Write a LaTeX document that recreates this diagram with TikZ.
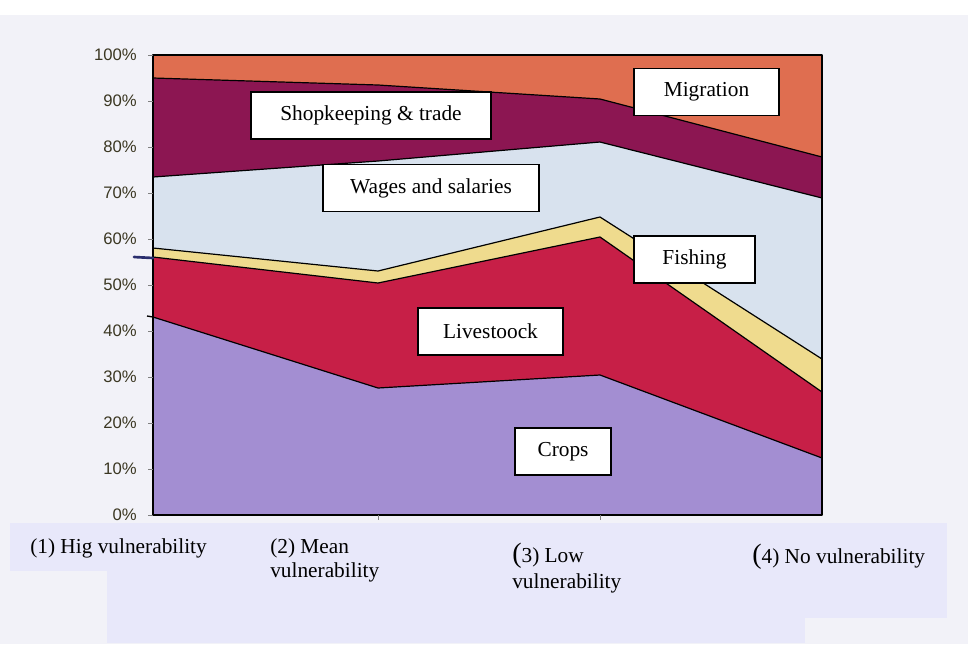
\documentclass[tikz,border=0pt]{standalone}
\usepackage{fontspec}
\setmainfont{Liberation Serif}
\setsansfont{Liberation Sans}
\definecolor{pagebg}{HTML}{F2F2F8}
\definecolor{strip}{HTML}{E8E8FA}
\definecolor{migr}{HTML}{DF6E50}
\definecolor{shop}{HTML}{8C1652}
\definecolor{wage}{HTML}{D8E2EE}
\definecolor{fish}{HTML}{EFDB8E}
\definecolor{live}{HTML}{C71F47}
\definecolor{crop}{HTML}{A38ED2}
\definecolor{axistext}{HTML}{3B3722}
\definecolor{penmark}{HTML}{2A2E6E}
\begin{document}
\begin{tikzpicture}[x=0.75pt,y=-0.75pt,
    band/.style={draw=black,line width=0.9pt,line join=round},
    tag/.style={draw=black,fill=white,line width=1.1pt,inner sep=0pt,
      minimum height=35pt,font=\fontsize{16}{18}\selectfont},
    pct/.style={anchor=east,inner sep=0pt,text=axistext,
      font=\sffamily\fontsize{12.5}{13}\selectfont},
    cat/.style={anchor=north west,align=left,inner sep=0pt,
      font=\fontsize{16}{18}\selectfont}]
    \useasboundingbox (0,0) rectangle (968,644);
    \fill[pagebg] (0,0) rectangle (968,644);
    \fill[white] (0,0) rectangle (968,15);
    % strip under the chart
    \fill[strip] (10,523) rectangle (947,571);
    \fill[strip] (107,571) rectangle (947,618);
    \fill[strip] (107,618) rectangle (805,643);

    % stacked areas
    \fill[crop] (153,515) -- (153,317) -- (378,388) -- (600,375) -- (822,458) -- (822,515) -- cycle;
    \fill[live] (153,317) -- (378,388) -- (600,375) -- (822,458) -- (822,392) -- (600,237) -- (378,283) -- (153,257) -- cycle;
    \fill[fish] (153,257) -- (378,283) -- (600,237) -- (822,392) -- (822,359) -- (600,217) -- (378,271) -- (153,248) -- cycle;
    \fill[wage] (153,248) -- (378,271) -- (600,217) -- (822,359) -- (822,198) -- (600,142) -- (378,161) -- (153,177) -- cycle;
    \fill[shop] (153,177) -- (378,161) -- (600,142) -- (822,198) -- (822,157) -- (600,99) -- (378,85) -- (153,78) -- cycle;
    \fill[migr] (153,78) -- (378,85) -- (600,99) -- (822,157) -- (822,55) -- (153,55) -- cycle;
    \draw[band] (153,317) -- (378,388) -- (600,375) -- (822,458);
    \draw[band] (153,257) -- (378,283) -- (600,237) -- (822,392);
    \draw[band] (153,248) -- (378,271) -- (600,217) -- (822,359);
    \draw[band] (153,177) -- (378,161) -- (600,142) -- (822,198);
    \draw[band] (153,78) -- (378,85) -- (600,99) -- (822,157);
    \draw[band] (153,55) rectangle (822,515);

    % ticks
    \draw[gray] (148,55) -- (153,55) (148,101) -- (153,101) (148,147) -- (153,147)
      (148,193) -- (153,193) (148,239) -- (153,239) (148,285) -- (153,285)
      (148,331) -- (153,331) (148,377) -- (153,377) (148,423) -- (153,423)
      (148,469) -- (153,469) (148,515) -- (153,515);
    \draw[gray] (378,515) -- (378,520) (600,515) -- (600,520);

    % pen marks on the axis
    \draw[penmark,line width=2pt,line cap=round] (134,257) -- (153,258);
    \draw[black,line width=1pt] (147,316) -- (153,317);

    \node[pct] (p100) at (137,55) {100\%};
    \node[pct] (p90) at (137,101) {90\%};
    \node[pct] (p80) at (137,147) {80\%};
    \node[pct] (p70) at (137,193) {70\%};
    \node[pct] (p60) at (137,239) {60\%};
    \node[pct] (p50) at (137,285) {50\%};
    \node[pct] (p40) at (137,331) {40\%};
    \node[pct] (p30) at (137,377) {30\%};
    \node[pct] (p20) at (137,423) {20\%};
    \node[pct] (p10) at (137,469) {10\%};
    \node[pct] (p0) at (137,515) {0\%};

    \node[tag,minimum width=180pt] (shopkeeping) at (371,115.5) {Shopkeeping \& trade};
    \node[tag,minimum width=162pt] (wages) at (431,188) {Wages and salaries};
    \node[tag,minimum width=109pt] (livestock) at (490.5,331.5) {Livestoock};
    \node[tag,minimum width=109pt] (migration) at (706.5,92) {Migration};
    \node[tag,minimum width=91pt] (fishing) at (694.5,259.5) {Fishing};
    \node[tag,minimum width=72pt] (crops) at (563,451.5) {Crops};

    \node[cat] (high) at (30,538) {(1) Hig vulnerability};
    \node[cat] (mean) at (270,538) {(2) Mean\\vulnerability};
    \node[cat,font=\fontsize{16}{19.5}\selectfont] (low) at (512,543) {{\fontsize{21}{21}\selectfont(}3) Low\\vulnerability};
    \node[cat] (none) at (752,544) {{\fontsize{21}{21}\selectfont(}4) No vulnerability};
\end{tikzpicture}
\end{document}
